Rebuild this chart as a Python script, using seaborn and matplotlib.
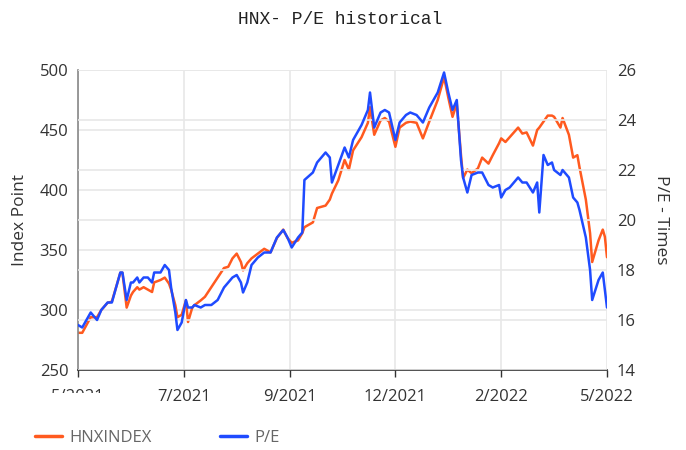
import seaborn as sns
import matplotlib.pyplot as plt
from matplotlib.transforms import Bbox, TransformedBbox

# trading session number (0 = start of 5/2021, 250 = 5/2022)
sessions = [0, 2, 6, 9, 11, 14, 16, 20, 21, 23,
            25, 26, 28, 29, 31, 33, 35, 36, 39, 41,
            43, 44, 46, 47, 49, 51, 52, 54, 55, 58,
            60, 63, 66, 69, 71, 73, 75, 77, 78, 80,
            82, 85, 88, 91, 94, 97, 99, 101, 104, 106,
            107, 111, 113, 117, 119, 120, 123, 126, 128, 130,
            134, 137, 138, 140, 143, 145, 147, 150, 152, 155,
            157, 160, 163, 166, 170, 173, 175, 177, 179, 181,
            182, 184, 186, 189, 191, 194, 196, 199, 200, 202,
            204, 208, 210, 212, 215, 217, 218, 220, 222, 224,
            225, 228, 229, 232, 234, 236, 237, 240, 242, 243,
            246, 248, 249, 250]

hnx_index = [281, 281, 294, 294, 300, 306, 307, 331, 331, 302,
             312, 315, 319, 317, 319, 317, 315, 323, 325, 327,
             322, 317, 304, 294, 296, 308, 290, 302, 304, 308,
             311, 319, 327, 335, 336, 343, 347, 340, 333, 339,
             343, 347, 351, 348, 360, 367, 360, 356, 358, 364,
             369, 373, 385, 387, 392, 397, 408, 425, 417, 433,
             444, 456, 469, 446, 458, 460, 457, 436, 452, 456,
             457, 456, 443, 457, 475, 494, 477, 461, 472, 429,
             410, 417, 414, 418, 427, 422, 429, 439, 443, 440,
             444, 452, 447, 448, 437, 450, 452, 457, 462, 462,
             461, 452, 460, 446, 427, 429, 419, 392, 364, 340,
             358, 367, 361, 344]

pe_ratio = [15.8, 15.7, 16.3, 16.0, 16.4, 16.7, 16.7, 17.9, 17.9, 16.8,
            17.5, 17.5, 17.7, 17.5, 17.7, 17.7, 17.5, 17.9, 17.9, 18.2,
            18.0, 17.3, 16.3, 15.6, 15.9, 16.8, 16.5, 16.5, 16.6, 16.5,
            16.6, 16.6, 16.8, 17.3, 17.5, 17.7, 17.8, 17.5, 17.1, 17.5,
            18.2, 18.5, 18.7, 18.7, 19.3, 19.6, 19.3, 18.9, 19.3, 19.5,
            21.6, 21.9, 22.3, 22.7, 22.5, 21.5, 22.2, 22.9, 22.5, 23.2,
            23.8, 24.4, 25.1, 23.7, 24.3, 24.4, 24.3, 23.2, 23.9, 24.2,
            24.3, 24.2, 23.9, 24.5, 25.1, 25.9, 25.1, 24.4, 24.8, 22.4,
            21.7, 21.1, 21.8, 21.9, 21.9, 21.4, 21.3, 21.4, 20.9, 21.2,
            21.3, 21.7, 21.5, 21.5, 21.1, 21.5, 20.3, 22.6, 22.2, 22.3,
            22.0, 21.8, 22.0, 21.7, 20.9, 20.7, 20.4, 19.3, 18.0, 16.8,
            17.6, 17.9, 17.2, 16.5]

tick_sessions = [0, 50, 100, 150, 200, 250]
tick_labels = ['5/2021', '7/2021', '9/2021', '12/2021', '2/2022', '5/2022']

sns.set_theme(style='white')
plt.rcParams['font.family'] = ['Open Sans', 'DejaVu Sans']

orange = '#ff5a1f'
blue = '#1f4bff'
grid_c = '#e8e8e8'
text_c = '#333333'

fig = plt.figure(figsize=(6.86, 4.5), dpi=100)
ax = fig.add_axes([78 / 686, 80 / 450, 529 / 686, 300 / 450])

sns.lineplot(x=sessions, y=hnx_index, ax=ax, color=orange, lw=1.8, label='HNXINDEX', legend=False)
ax2 = ax.twinx()
sns.lineplot(x=sessions, y=pe_ratio, ax=ax2, color=blue, lw=1.8, label='P/E', legend=False)

ax.set_xlim(0, 250)
ax.set_ylim(250, 500)
ax2.set_ylim(14, 26)
ax.set_xticks(tick_sessions, labels=tick_labels)
ax.set_yticks(range(250, 501, 50))
ax2.set_yticks(range(14, 27, 2))

ax.grid(True, color=grid_c, lw=1.2)
ax2.grid(True, axis='y', color=grid_c, lw=1.2)
ax2.grid(False, axis='x')

for s in ['top', 'right']:
    ax.spines[s].set_visible(False)
ax.spines['left'].set_color('#888888')
ax.spines['left'].set_linewidth(1.2)
ax.spines['bottom'].set_color('#333333')
ax.spines['bottom'].set_linewidth(1.2)
for s in ax2.spines.values():
    s.set_visible(False)

ax.tick_params(axis='x', direction='out', length=5, width=1, color='#333333',
               pad=9, labelsize=12, labelcolor=text_c, bottom=True)
ax.tick_params(axis='y', length=0, pad=7, labelsize=12, labelcolor=text_c)
ax2.tick_params(axis='y', length=0, pad=7, labelsize=12, labelcolor=text_c)

ax.set_xlabel('')
ax.set_ylabel('Index Point', fontsize=12.5, color=text_c, labelpad=8)
ax2.set_ylabel('P/E - Times', fontsize=12.5, color=text_c, rotation=270, va='bottom', labelpad=12)

# the first date label is cut off in the original
first = ax.get_xticklabels()[0]
first.set_clip_box(TransformedBbox(Bbox([[0, (450 - 393) / 450], [1, 1]]), fig.transFigure))
first.set_clip_on(True)

fig.text(340 / 686, 1 - 20 / 450, 'HNX- P/E historical', ha='center', va='center',
         family='Liberation Mono', fontsize=13, color='#222222')

h1, l1 = ax.get_legend_handles_labels()
h2, l2 = ax2.get_legend_handles_labels()
leg = fig.legend(h1 + h2, l1 + l2, loc='center left', bbox_to_anchor=(35 / 686, 1 - 438 / 450),
                 ncol=2, frameon=False, fontsize=12, handlelength=1.6, handletextpad=0.45,
                 columnspacing=4.1, borderpad=0, borderaxespad=0)
for t in leg.get_texts():
    t.set_color('#666666')
for ln in leg.get_lines():
    ln.set_linewidth(2.5)

fig.savefig('out.png', dpi=100)
